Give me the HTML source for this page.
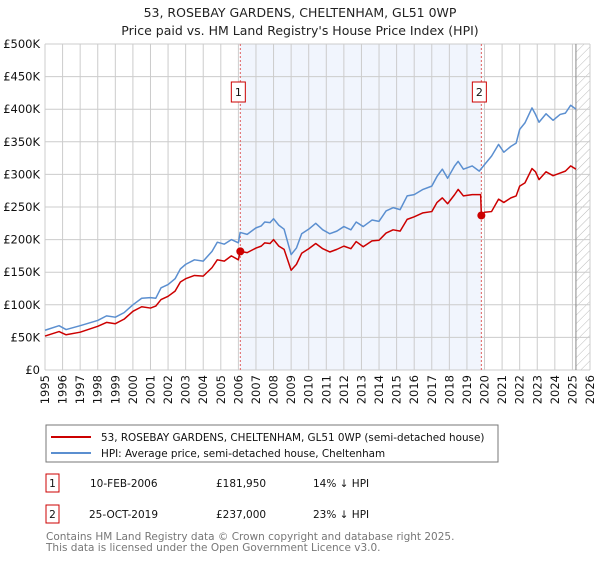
<!DOCTYPE html>
<html><head><meta charset="utf-8"><style>
body{margin:0;background:#fff;font-family:"Liberation Sans","DejaVu Sans",sans-serif;}
svg text{font-family:"DejaVu Sans","Liberation Sans",sans-serif;}
</style></head><body>
<svg id="chart" width="600" height="560" viewBox="0 0 600 560" xmlns="http://www.w3.org/2000/svg">
<defs>
<pattern id="hatch" patternUnits="userSpaceOnUse" width="6" height="6" patternTransform="rotate(45)">
<line x1="0" y1="0" x2="0" y2="6" stroke="#bbb" stroke-width="1"/>
</pattern>
</defs>
<text x="300" y="17" text-anchor="middle" font-size="12.5" fill="#222">53, ROSEBAY GARDENS, CHELTENHAM, GL51 0WP</text>
<text x="300" y="35" text-anchor="middle" font-size="12.5" fill="#222">Price paid vs. HM Land Registry's House Price Index (HPI)</text>
<g id="plot"></g>
<g>
<rect x="46" y="425" width="452" height="37" fill="#fff" stroke="#777"/>
<line x1="51" y1="437" x2="91" y2="437" stroke="#cc0000" stroke-width="2"/>
<text x="101" y="441" font-size="10.4" fill="#111">53, ROSEBAY GARDENS, CHELTENHAM, GL51 0WP (semi-detached house)</text>
<line x1="51" y1="453" x2="91" y2="453" stroke="#5b8fd0" stroke-width="2"/>
<text x="101" y="457" font-size="10.4" fill="#111">HPI: Average price, semi-detached house, Cheltenham</text>
</g>
<g font-size="10.5" fill="#111">
<rect x="46" y="474" width="13" height="18" fill="#fff" stroke="#cc0000"/>
<text x="52.5" y="487" text-anchor="middle">1</text>
<text x="90" y="487">10-FEB-2006</text>
<text x="216" y="487">£181,950</text>
<text x="313" y="487">14% ↓ HPI</text>
</g>
<g font-size="10.5" fill="#111">
<rect x="46" y="505" width="13" height="18" fill="#fff" stroke="#cc0000"/>
<text x="52.5" y="518" text-anchor="middle">2</text>
<text x="89" y="518">25-OCT-2019</text>
<text x="216" y="518">£237,000</text>
<text x="313" y="518">23% ↓ HPI</text>
</g>
<text x="46" y="540" font-size="10.5" fill="#777">Contains HM Land Registry data © Crown copyright and database right 2025.</text>
<text x="46" y="551" font-size="10.5" fill="#777">This data is licensed under the Open Government Licence v3.0.</text>
</svg>
<script>
const yTicks=[0,50,100,150,200,250,300,350,400,450,500];
const yLabels=["£0","£50K","£100K","£150K","£200K","£250K","£300K","£350K","£400K","£450K","£500K"];
const xYears=[1995,1996,1997,1998,1999,2000,2001,2002,2003,2004,2005,2006,2007,2008,2009,2010,2011,2012,2013,2014,2015,2016,2017,2018,2019,2020,2021,2022,2023,2024,2025,2026];
const hpiYears=[1995,1995.8,1996.2,1997,1998,1998.5,1999,1999.5,2000,2000.5,2001,2001.3,2001.6,2002,2002.4,2002.7,2003,2003.5,2004,2004.5,2004.8,2005.2,2005.6,2006.0,2006.1,2006.5,2007,2007.3,2007.5,2007.8,2008,2008.3,2008.6,2009,2009.3,2009.6,2010,2010.4,2010.8,2011.2,2011.6,2012,2012.4,2012.7,2013.1,2013.6,2014,2014.4,2014.8,2015.2,2015.6,2016,2016.5,2017,2017.3,2017.6,2017.9,2018.3,2018.5,2018.8,2019.3,2019.7,2020,2020.4,2020.8,2021.1,2021.5,2021.8,2022.0,2022.3,2022.7,2022.9,2023.1,2023.5,2023.9,2024.3,2024.6,2024.9,2025.2];
const hpiValues=[61,68,62,68,76,83,81,88,100,110,111,110,126,131,140,155,162,169,167,182,196,193,200,195,211,208,218,221,227,226,232,222,216,177,187,209,216,225,215,209,213,220,215,227,220,230,228,244,249,246,267,269,277,282,297,308,294,313,320,308,313,305,315,328,346,334,343,348,369,379,402,392,380,393,383,392,394,406,400];
const ppYears=[1995,1995.8,1996.2,1997,1998,1998.5,1999,1999.5,2000,2000.5,2001,2001.3,2001.6,2002,2002.4,2002.7,2003,2003.5,2004,2004.5,2004.8,2005.2,2005.6,2006.0,2006.1,2006.5,2007,2007.3,2007.5,2007.8,2008,2008.3,2008.6,2009,2009.3,2009.6,2010,2010.4,2010.8,2011.2,2011.6,2012,2012.4,2012.7,2013.1,2013.6,2014,2014.4,2014.8,2015.2,2015.6,2016,2016.5,2017,2017.3,2017.6,2017.9,2018.3,2018.5,2018.8,2019.3,2019.78,2019.82,2020,2020.4,2020.8,2021.1,2021.5,2021.8,2022.0,2022.3,2022.7,2022.9,2023.1,2023.5,2023.9,2024.3,2024.6,2024.9,2025.2];
const ppValues=[52,59,54,58,67,73,71,78,90,97,95,98,108,113,121,135,140,145,144,157,169,167,175,169,182,180,187,190,195,194,200,190,185,153,162,179,186,194,186,181,185,190,186,197,189,198,199,210,215,213,231,235,241,243,257,264,255,269,277,267,269,269,237,242,243,262,257,264,267,282,287,309,304,292,304,298,302,305,313,308];
const saleYears=[2006.11,2019.82];
const saleValues=[181.95,237];
const saleLabels=["1","2"];

const NS="http://www.w3.org/2000/svg";
const X0=45,X1=590,Y0=370,Y1=44;
const sx=y=>X0+(y-1995)/(2026-1995)*(X1-X0);
const sy=v=>Y0-v/500*(Y0-Y1);
const g=document.getElementById('plot');
function mk(t,a){const e=document.createElementNS(NS,t);for(const k in a)e.setAttribute(k,a[k]);g.appendChild(e);return e;}
const shade=mk('rect',{x:sx(saleYears[0]),y:Y1,width:sx(saleYears[1])-sx(saleYears[0]),height:Y0-Y1,fill:'#eef3fc',opacity:0.8});


const hatch=mk('rect',{x:sx(2025.2),y:Y1,width:X1-sx(2025.2),height:Y0-Y1,fill:'url(#hatch)'});


xYears.forEach(yr=>{const l=mk('line',{x1:sx(yr),x2:sx(yr),y1:Y1,y2:Y0,stroke:'#ccc','stroke-width':1});


const t=mk('text',{x:0,y:0,'font-size':11.5,fill:'#111','text-anchor':'end',transform:`translate(${sx(yr)+4},375) rotate(-90)`});
t.textContent=yr;

});
yTicks.forEach((v,i)=>{const l=mk('line',{x1:X0,x2:X1,y1:sy(v),y2:sy(v),stroke:'#ccc','stroke-width':1});


const t=mk('text',{x:40,y:sy(v)+4,'font-size':11.5,fill:'#111','text-anchor':'end'});
t.textContent=yLabels[i];

});
const edge=mk('line',{x1:sx(2025.2),x2:sx(2025.2),y1:Y1,y2:Y0,stroke:'#888','stroke-width':1});


saleYears.forEach((yr,i)=>{const l=mk('line',{x1:sx(yr),x2:sx(yr),y1:Y1,y2:Y0,stroke:'#e06060','stroke-width':1,'stroke-dasharray':'2,2'});

});
function line(xs,vs,col,name){const p=mk('polyline',{points:xs.map((x,i)=>sx(x)+','+sy(vs[i])).join(' '),fill:'none',stroke:col,'stroke-width':1.5,'stroke-linejoin':'round'});

}
line(hpiYears,hpiValues,'#5b8fd0','hpi-line');
line(ppYears,ppValues,'#cc0000','price-paid-line');
saleYears.forEach((yr,i)=>{const c=mk('circle',{cx:sx(yr),cy:sy(saleValues[i]),r:4,fill:'#cc0000'});


const r=mk('rect',{x:sx(yr)-9,y:82,width:14,height:20,fill:'#fff',stroke:'#cc0000'});


const t=mk('text',{x:sx(yr)-2,y:96,'font-size':11,fill:'#111','text-anchor':'middle'});
t.textContent=saleLabels[i];

});
</script>
</body></html>
